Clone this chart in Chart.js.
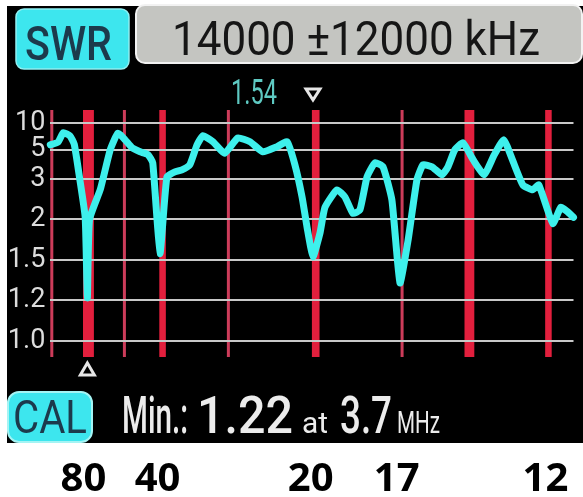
<!DOCTYPE html>
<html><head><meta charset="utf-8">
<script src="https://cdn.jsdelivr.net/npm/chart.js@4"></script>
<style>html,body{margin:0;padding:0;background:#fff;overflow:hidden}#wrap{width:583px;height:497px}</style>
</head><body><div id="wrap"><canvas id="c" width="583" height="497"></canvas></div>
<script>
const freqMHz = [2.0, 2.35, 2.6, 2.9, 3.1, 3.35, 3.6, 3.7, 3.8, 4.3, 4.75, 5.1, 5.43, 5.75, 6.12, 6.48, 6.7, 7.03,
  7.35, 7.72, 8.04, 8.4, 8.73, 9.0, 9.46, 10.0, 10.6, 11.16, 11.75, 12.4, 12.86, 13.22, 13.55, 13.78, 14.05,
  14.37, 14.6, 15.15, 15.52, 15.88, 16.2, 16.53, 16.89, 17.26, 17.67, 18.04, 18.41, 18.82, 19.1, 19.51, 19.97,
  20.24, 20.56, 20.93, 21.4, 21.9, 22.35, 22.8, 23.2, 23.68, 24.13, 24.41, 25.05, 25.42, 25.7, 26.0];
const swrValues = [5.9, 6.4, 8.2, 7.6, 6.0, 3.0, 2.05, 1.22, 2.0, 2.75, 5.0, 8.1, 6.85, 5.37, 4.86, 4.66, 4.1, 1.58,
  3.14, 3.48, 3.62, 3.97, 5.9, 7.6, 6.48, 4.76, 7.2, 6.48, 4.86, 5.56, 6.48, 3.97, 2.55, 1.9, 1.54,
  1.83, 2.3, 2.73, 2.55, 2.15, 2.23, 3.14, 4.1, 3.83, 2.48, 1.33, 1.74, 2.98, 3.97, 3.83, 3.28,
  3.83, 5.0, 6.3, 4.3, 3.28, 4.6, 6.85, 4.3, 2.85, 2.73, 2.85, 1.95, 2.3, 2.2, 2.05];
const swrTickValues = [1.0, 1.2, 1.5, 2, 3, 5, 10];
const swrTickLabels = ['1.0', '1.2', '1.5', '2', '3', '5', '10'];
const hamBandsMHz = [[1.8, 2.0], [3.5, 4.0], [5.3305, 5.4035], [7.0, 7.3], [10.1, 10.15], [14.0, 14.35],
  [18.068, 18.168], [21.0, 21.45], [24.7, 25.0]];
const bandNames = ['80', '40', '20', '17', '12'];
const bandNameMHz = [3.75, 7.15, 14.175, 18.118, 24.94];
const centerKHz = 14000, spanKHz = 12000;
const minSWR = 1.22, minMHz = 3.7;
const markerSWR = 1.54, markerMHz = 14.05;

// device SWR axis: equal steps 1.0..3, compressed above 3
function swrToAxis(s) {
  const v = [1.0, 1.2, 1.5, 2, 3, 5, 10], p = [0, 1, 2, 3, 4, 4.72, 5.38];
  if (s <= v[0]) return p[0] - (v[0] - s) / 0.2;
  for (let i = 1; i < v.length; i++) {
    if (s <= v[i]) return p[i - 1] + (s - v[i - 1]) / (v[i] - v[i - 1]) * (p[i] - p[i - 1]);
  }
  return p[p.length - 1];
}

function fitText(ctx, txt, x, y, w, font, color) {
  ctx.save();
  ctx.font = font;
  const m = ctx.measureText(txt).width;
  ctx.translate(x, y);
  ctx.scale(w / m, 1);
  ctx.fillStyle = color;
  ctx.textAlign = 'left';
  ctx.textBaseline = 'alphabetic';
  ctx.fillText(txt, 0, 0);
  ctx.restore();
}
function rrect(ctx, x, y, w, h, r, fill, stroke, lw) {
  ctx.save();
  ctx.beginPath();
  ctx.roundRect(x, y, w, h, r);
  ctx.fillStyle = fill; ctx.fill();
  if (stroke) { ctx.strokeStyle = stroke; ctx.lineWidth = lw || 2; ctx.stroke(); }
  ctx.restore();
}

const screenPlugin = {
  id: 'screen',
  beforeDraw(chart) {
    const ctx = chart.ctx, a = chart.chartArea, xs = chart.scales.x;
    ctx.save();
    ctx.fillStyle = '#ffffff'; ctx.fillRect(0, 0, chart.width, chart.height);
    ctx.fillStyle = '#000000'; ctx.fillRect(7, 6, chart.width - 7, 437);
    hamBandsMHz.forEach(([f1, f2]) => {
      let x1 = Math.max(xs.getPixelForValue(f1), a.left);
      let x2 = Math.min(xs.getPixelForValue(f2), a.right);
      let w = x2 - x1;
      const thin = w < 5;
      if (w < 3) w = 3;
      ctx.fillStyle = thin ? '#cc3c5a' : '#e21f3d';
      ctx.fillRect(x1, a.top, w, a.bottom - a.top);
    });
    ctx.restore();
  },
  afterDraw(chart) {
    const ctx = chart.ctx, xs = chart.scales.x;
    // header
    rrect(ctx, 16, 9, 113, 60, 8, '#3de6ee', '#8ff0f2', 1.5);
    fitText(ctx, 'SWR', 25, 60, 87, '500 49px Roboto', '#1c3a4c');
    rrect(ctx, 136, 5, 446, 58, 9, '#c4c5c1', '#f2f2f2', 2);
    fitText(ctx, centerKHz + ' \u00B1' + spanKHz + ' kHz', 172, 55, 368, '49px Roboto', '#161616');
    // marker
    const mx = xs.getPixelForValue(markerMHz);
    fitText(ctx, markerSWR.toFixed(2), mx - 82, 104, 46, '35px Roboto', '#5ec9c2');
    ctx.save();
    ctx.strokeStyle = '#e6e6e6'; ctx.lineWidth = 3; ctx.lineJoin = 'miter';
    ctx.beginPath(); ctx.moveTo(mx - 7, 89); ctx.lineTo(mx + 7, 89); ctx.lineTo(mx, 100); ctx.closePath(); ctx.stroke();
    const nx = xs.getPixelForValue(minMHz);
    ctx.beginPath(); ctx.moveTo(nx - 7, 375); ctx.lineTo(nx + 7, 375); ctx.lineTo(nx, 363); ctx.closePath(); ctx.stroke();
    ctx.restore();
    // footer
    rrect(ctx, 8, 392, 84, 50, 11, '#3de6ee', '#a4f4f4', 2);
    fitText(ctx, 'CAL', 13, 433, 74, '46px Roboto', '#1c3a4c');
    fitText(ctx, 'Min.:', 122, 433, 66, '500 52px Roboto', '#ececec');
    fitText(ctx, minSWR.toFixed(2), 197, 433, 96, '500 52px Roboto', '#ececec');
    fitText(ctx, 'at', 302, 433, 26, '30px Roboto', '#ececec');
    fitText(ctx, String(minMHz), 340, 433, 52, '500 52px Roboto', '#ececec');
    fitText(ctx, 'MHz', 397, 433, 43, '32px Roboto', '#ececec');
    // band names below the screen
    ctx.save();
    ctx.font = 'bold 40px "Open Sans"';
    ctx.fillStyle = '#000';
    ctx.textAlign = 'center';
    ctx.textBaseline = 'alphabetic';
    bandNames.forEach((t, i) => ctx.fillText(t, xs.getPixelForValue(bandNameMHz[i]) - 5, 491));
    ctx.restore();
  }
};

new Chart(document.getElementById('c').getContext('2d'), {
  type: 'line',
  data: {
    datasets: [{
      data: freqMHz.map((f, i) => ({ x: f, y: swrToAxis(swrValues[i]) })),
      borderColor: '#3ef0ec', borderWidth: 7, pointRadius: 0, tension: 0.15,
      borderJoinStyle: 'round', borderCapStyle: 'round', clip: false
    }]
  },
  options: {
    responsive: false, animation: false, devicePixelRatio: 1,
    layout: { padding: { left: 0, top: 110, right: 9.5, bottom: 140 } },
    plugins: { legend: { display: false }, tooltip: { enabled: false } },
    scales: {
      x: { type: 'linear', min: (centerKHz - spanKHz) / 1000, max: (centerKHz + spanKHz) / 1000, display: false },
      y: {
        type: 'linear', min: -0.395, max: 5.70,
        afterFit(s) { s.width = 50.3; },
        afterBuildTicks(s) { s.ticks = swrTickValues.map(v => ({ value: swrToAxis(v) })); },
        ticks: { autoSkip: false, padding: 5, color: '#dcdcdc', font: { family: 'Roboto', size: 27 },
          callback: (v, i) => swrTickLabels[i] },
        grid: { color: '#c8c8c8', lineWidth: 2, drawTicks: false },
        border: { display: false }
      }
    }
  },
  plugins: [screenPlugin]
});
</script></body></html>
